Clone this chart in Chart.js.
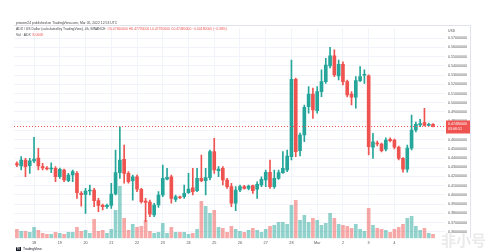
<!DOCTYPE html>
<html>
<head>
<meta charset="utf-8">
<script src="https://cdn.jsdelivr.net/npm/chart.js@4.4.1/dist/chart.umd.min.js"></script>
<style>
  html, body { margin: 0; padding: 0; background: #fff; }
  #chart { display: block; }
</style>
</head>
<body>
<canvas id="chart" width="488" height="252"></canvas>
<script>
// ADX/USD 4h candles, first one is Feb 17 08:00 UTC, last Mar 05 12:00 UTC
const opens = [
  0.4339, 0.4314, 0.4379, 0.4317, 0.4368, 0.4400, 0.4306, 0.4289, 0.4281, 0.4289,
  0.4197, 0.4270, 0.4154, 0.4216, 0.4234, 0.4017, 0.4006, 0.4042, 0.4053, 0.3937,
  0.3887, 0.3872, 0.3887, 0.4010, 0.4241, 0.4386, 0.4234, 0.4154, 0.4197, 0.4061,
  0.3933, 0.3923, 0.3782, 0.3890, 0.3999, 0.4172, 0.4197, 0.3952, 0.3980, 0.3980,
  0.4024, 0.4078, 0.4045, 0.4180, 0.4154, 0.4187, 0.4469, 0.4263, 0.4289, 0.4162,
  0.4089, 0.3909, 0.4053, 0.4089, 0.4071, 0.4100, 0.4061, 0.4107, 0.4162, 0.4245,
  0.4089, 0.4180, 0.4241, 0.4270, 0.4415, 0.5255, 0.4480, 0.4650, 0.4957, 0.5095,
  0.4914, 0.5120, 0.5229, 0.5399, 0.5508, 0.5291, 0.5418, 0.5229, 0.5095, 0.5060,
  0.5240, 0.5298, 0.5291, 0.4517, 0.4560, 0.4552, 0.4495, 0.4603, 0.4596, 0.4517,
  0.4397, 0.4278, 0.4506, 0.4704, 0.4759, 0.4784, 0.4755, 0.4766
];
const highs = [
  0.4360, 0.4415, 0.4397, 0.4397, 0.4625, 0.4506, 0.4343, 0.4306, 0.4349, 0.4306,
  0.4292, 0.4281, 0.4234, 0.4270, 0.4252, 0.4035, 0.4071, 0.4107, 0.4071, 0.3963,
  0.3900, 0.3900, 0.4126, 0.4487, 0.4740, 0.4542, 0.4252, 0.4216, 0.4216, 0.4071,
  0.3963, 0.3944, 0.3909, 0.4035, 0.4324, 0.4289, 0.4216, 0.3999, 0.3988, 0.4107,
  0.4234, 0.4289, 0.4289, 0.4433, 0.4289, 0.4487, 0.4614, 0.4306, 0.4306, 0.4180,
  0.4126, 0.4089, 0.4107, 0.4104, 0.4107, 0.4107, 0.4143, 0.4197, 0.4270, 0.4379,
  0.4270, 0.4270, 0.4469, 0.4487, 0.5464, 0.5269, 0.4672, 0.4976, 0.5175, 0.5160,
  0.5175, 0.5356, 0.5483, 0.5602, 0.5573, 0.5464, 0.5443, 0.5247, 0.5120, 0.5283,
  0.5392, 0.5356, 0.5302, 0.4669, 0.4585, 0.4563, 0.4618, 0.4618, 0.4607, 0.4531,
  0.4405, 0.4542, 0.4867, 0.4791, 0.4821, 0.4940, 0.4780, 0.4773
];
const lows = [
  0.4306, 0.4270, 0.4197, 0.4234, 0.4349, 0.4270, 0.4270, 0.4270, 0.4241, 0.4143,
  0.4180, 0.4143, 0.4143, 0.4143, 0.3963, 0.3879, 0.3800, 0.3999, 0.3872, 0.3817,
  0.3836, 0.3854, 0.3854, 0.3999, 0.4180, 0.4126, 0.4126, 0.3944, 0.4035, 0.3909,
  0.3709, 0.3763, 0.3763, 0.3865, 0.3980, 0.4162, 0.3909, 0.3926, 0.3959, 0.3963,
  0.4017, 0.3999, 0.4035, 0.4143, 0.3999, 0.4162, 0.4234, 0.4197, 0.4107, 0.4071,
  0.3872, 0.3828, 0.4035, 0.4061, 0.4053, 0.4017, 0.3963, 0.4089, 0.4089, 0.4071,
  0.4071, 0.4169, 0.4234, 0.4252, 0.4379, 0.4415, 0.4422, 0.4577, 0.4886, 0.4831,
  0.4886, 0.5066, 0.5211, 0.5378, 0.5283, 0.5247, 0.5193, 0.5063, 0.4976, 0.4940,
  0.5229, 0.5211, 0.4433, 0.4397, 0.4531, 0.4466, 0.4476, 0.4574, 0.4498, 0.4379,
  0.4248, 0.4248, 0.4487, 0.4683, 0.4740, 0.4748, 0.4748, 0.4737
];
const closes = [
  0.4324, 0.4379, 0.4306, 0.4371, 0.4390, 0.4314, 0.4292, 0.4281, 0.4289, 0.4197,
  0.4278, 0.4162, 0.4216, 0.4252, 0.4024, 0.4002, 0.4042, 0.4053, 0.3937, 0.3887,
  0.3872, 0.3887, 0.4010, 0.4241, 0.4379, 0.4234, 0.4143, 0.4197, 0.4061, 0.3926,
  0.3919, 0.3792, 0.3890, 0.3999, 0.4180, 0.4191, 0.3963, 0.3980, 0.3969, 0.4017,
  0.4064, 0.4035, 0.4180, 0.4154, 0.4187, 0.4469, 0.4270, 0.4281, 0.4162, 0.4089,
  0.3909, 0.4053, 0.4089, 0.4071, 0.4096, 0.4045, 0.4115, 0.4169, 0.4245, 0.4089,
  0.4180, 0.4241, 0.4289, 0.4422, 0.5255, 0.4469, 0.4650, 0.4951, 0.5095, 0.4922,
  0.5120, 0.5229, 0.5410, 0.5508, 0.5302, 0.5418, 0.5229, 0.5084, 0.5060, 0.5240,
  0.5283, 0.5309, 0.4523, 0.4577, 0.4552, 0.4480, 0.4596, 0.4588, 0.4517, 0.4397,
  0.4278, 0.4509, 0.4704, 0.4766, 0.4775, 0.4755, 0.4766, 0.4748
];
// volume in thousands of ADX
const volumes = [
  18, 14, 14, 12, 22, 16, 10, 8, 8, 12,
  10, 8, 12, 12, 22, 14, 16, 10, 38, 14,
  16, 10, 18, 56, 104, 40, 16, 28, 22, 24,
  36, 14, 10, 12, 30, 10, 22, 12, 12, 12,
  8, 10, 18, 74, 64, 50, 56, 22, 20, 12,
  24, 18, 14, 12, 16, 20, 16, 12, 18, 24,
  26, 32, 32, 28, 66, 76, 36, 46, 32, 40,
  36, 26, 30, 50, 40, 28, 26, 24, 20, 28,
  18, 14, 60, 26, 20, 18, 16, 12, 18, 22,
  28, 40, 44, 24, 16, 20, 10, 8
];
const dayTicks = [4, 10, 16, 22, 28, 34, 40, 46, 52, 58, 64, 70, 76, 82, 88];
const dayLabels = ["18", "19", "20", "21", "22", "23", "24", "25", "26", "27", "28", "Mar", "2", "3", "4"];
const priceTicks = [0.36, 0.37, 0.38, 0.39, 0.40, 0.41, 0.42, 0.43, 0.44, 0.45, 0.46,
  0.47, 0.48, 0.49, 0.50, 0.51, 0.52, 0.53, 0.54, 0.55, 0.56, 0.57];

const UP = '#26a69a';
const DOWN = '#ef5350';
const UP_VOL = 'rgba(38,166,154,0.5)';
const DOWN_VOL = 'rgba(239,83,80,0.5)';
const FONT = '"Liberation Sans", Arial, sans-serif';

const isUp = closes.map((c, i) => c >= opens[i]);
const colors = isUp.map(u => u ? UP : DOWN);

const last = closes.length - 1;
const chg = closes[last] - closes[last - 1];
const chgPct = chg / closes[last - 1] * 100;

const overlay = {
  id: 'overlay',
  afterDraw(chart) {
    const ctx = chart.ctx;
    const area = chart.chartArea;
    const y = chart.scales.y;
    ctx.save();

    // pane frame
    ctx.strokeStyle = '#e0e3eb';
    ctx.lineWidth = 1;
    ctx.beginPath();
    ctx.moveTo(14, 25.5);
    ctx.lineTo(470.5, 25.5);
    ctx.lineTo(470.5, 238);
    ctx.stroke();

    // last price line
    const py = Math.round(y.getPixelForValue(closes[last])) + 0.5;
    ctx.strokeStyle = DOWN;
    ctx.setLineDash([1, 2]);
    ctx.beginPath();
    ctx.moveTo(area.left, py);
    ctx.lineTo(area.right, py);
    ctx.stroke();
    ctx.setLineDash([]);

    // last price label
    ctx.fillStyle = isUp[last] ? UP : DOWN;
    ctx.fillRect(446, py - 6, 24, 13);
    ctx.fillStyle = '#fff';
    ctx.font = '3.6px ' + FONT;
    ctx.textBaseline = 'middle';
    ctx.textAlign = 'left';
    ctx.fillText(closes[last].toFixed(8), 448, py - 2.5);
    ctx.fillText('03:06:51', 448, py + 2.5);

    // header
    ctx.fillStyle = '#444';
    ctx.font = '3.4px ' + FONT;
    ctx.fillText('pinoeer24 published on TradingView.com, Mar 05, 2022 12:53 UTC', 16, 23);
    const title = 'ADX / US Dollar (calculated by TradingView), 4h, BINANCE  ';
    ctx.fillText(title, 16, 29.5);
    const tw = ctx.measureText(title).width;
    ctx.fillStyle = isUp[last] ? UP : DOWN;
    const sign = chg < 0 ? '\u2212' : '+';
    ctx.fillText('O' + opens[last].toFixed(8) + ' H' + highs[last].toFixed(8) +
      ' L' + lows[last].toFixed(8) + ' C' + closes[last].toFixed(8) + ' ' +
      sign + Math.abs(chg).toFixed(8) + ' (' + sign + Math.abs(chgPct).toFixed(2) + '%)', 16 + tw, 29.5);
    ctx.fillStyle = '#444';
    ctx.fillText('Vol \u00b7 ADX  ', 16, 35.5);
    const vw = ctx.measureText('Vol \u00b7 ADX  ').width;
    ctx.fillStyle = isUp[last] ? UP : DOWN;
    ctx.fillText(volumes[last].toFixed(3) + 'K', 16 + vw, 35.5);

    ctx.fillStyle = '#555';
    ctx.fillText('USD', 448, 31);

    // footer logo
    ctx.fillStyle = '#131722';
    ctx.fillRect(16, 247, 5, 4);
    ctx.fillStyle = '#fff';
    ctx.font = 'bold 2.6px ' + FONT;
    ctx.fillText('TV', 16.6, 249);
    ctx.fillStyle = '#131722';
    ctx.font = '3.4px ' + FONT;
    ctx.fillText('TradingView', 23, 249);

    // watermark
    ctx.fillStyle = 'rgba(160,160,160,0.22)';
    ctx.font = 'bold 15px "Noto Sans CJK SC", sans-serif';
    ctx.textAlign = 'right';
    ctx.fillText('非小号', 486, 240);
    ctx.restore();
  }
};

new Chart(document.getElementById('chart'), {
  type: 'bar',
  data: {
    datasets: [
      {
        label: 'Volume',
        data: volumes.map((v, i) => ({ x: i, y: v })),
        backgroundColor: isUp.map(u => u ? UP_VOL : DOWN_VOL),
        barThickness: 3,
        grouped: false,
        yAxisID: 'yv',
        order: 3
      },
      {
        label: 'Wick',
        data: highs.map((h, i) => ({ x: i, y: [lows[i], h] })),
        backgroundColor: colors,
        barThickness: 1,
        grouped: false,
        yAxisID: 'y',
        order: 2
      },
      {
        label: 'Body',
        data: opens.map((o, i) => ({ x: i, y: [o, closes[i]] })),
        backgroundColor: colors,
        barThickness: 3,
        minBarLength: 1,
        grouped: false,
        yAxisID: 'y',
        order: 1
      }
    ]
  },
  options: {
    responsive: false,
    devicePixelRatio: 1,
    animation: false,
    events: [],
    layout: { padding: { left: 14, top: 28.3, right: 0, bottom: 5.7 } },
    plugins: { legend: { display: false }, tooltip: { enabled: false } },
    scales: {
      x: {
        type: 'linear',
        offset: false,
        min: -0.676,
        max: 99.79,
        afterBuildTicks: s => { s.ticks = dayTicks.map(v => ({ value: v })); },
        afterFit: s => { s.height = 8; },
        grid: { color: '#f0f3fa', drawTicks: false, offset: false },
        border: { display: false },
        ticks: {
          autoSkip: false,
          maxRotation: 0,
          padding: 2,
          color: '#555',
          font: { size: 3.8, family: FONT },
          callback: v => dayLabels[dayTicks.indexOf(v)]
        }
      },
      y: {
        position: 'right',
        min: 0.3529,
        max: 0.5808,
        afterBuildTicks: s => { s.ticks = priceTicks.map(v => ({ value: v })); },
        afterFit: s => { s.width = 43; },
        grid: { color: '#f0f3fa', drawTicks: false },
        border: { display: false },
        ticks: {
          padding: 3,
          color: '#555',
          font: { size: 3.6, family: FONT },
          callback: v => v.toFixed(8)
        }
      },
      yv: {
        display: false,
        min: 0,
        max: 420
      }
    }
  },
  plugins: [overlay]
});
</script>
</body>
</html>
